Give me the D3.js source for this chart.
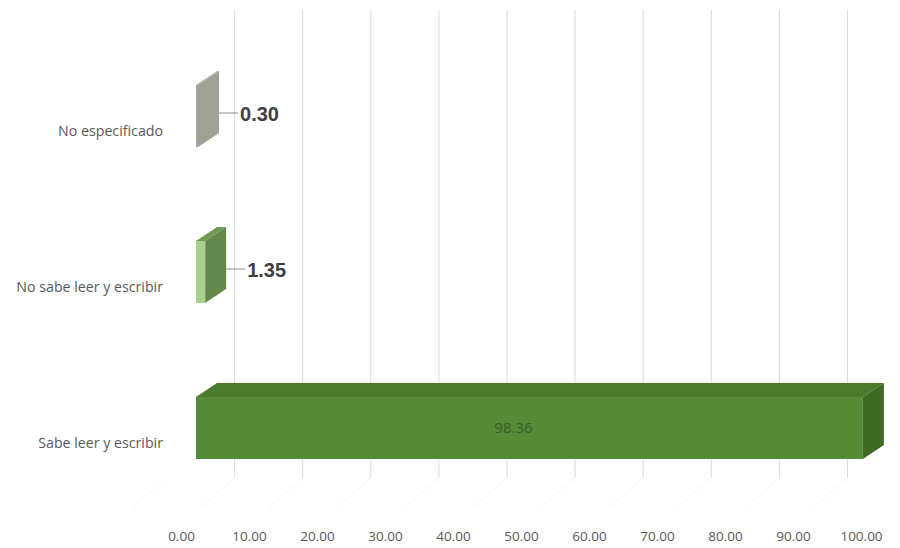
<!DOCTYPE html>
<html>
<head>
<meta charset="utf-8">
<script src="https://cdn.jsdelivr.net/npm/d3@7"></script>
<style>
  html, body { margin: 0; padding: 0; background: #ffffff; }
  svg { display: block; }
</style>
</head>
<body>
<div id="chart"></div>
<script>
// ---- data ----
const categories = ["No especificado", "No sabe leer y escribir", "Sabe leer y escribir"];
const values = [0.30, 1.35, 98.36];
const valueLabels = ["0.30", "1.35", "98.36"];
const tickValues = [0, 10, 20, 30, 40, 50, 60, 70, 80, 90, 100];
const tickLabels = ["0.00", "10.00", "20.00", "30.00", "40.00", "50.00", "60.00", "70.00", "80.00", "90.00", "100.00"];
const frontColors = ["#a6a79e", "#a9d18e", "#558a36"];
const topColors = ["#b0b3a5", "#6f9a52", "#4a7a2c"];
const sideColors = ["#9ea292", "#65884c", "#3f6a25"];

const W = 900, H = 548;
const svg = d3.select("#chart").append("svg").attr("width", W).attr("height", H);

// scales
const xBar = d3.scaleLinear().domain([0, 100]).range([196, 874]);      // front face of bars
const xGrid = d3.scaleLinear().domain([0, 100]).range([166, 847]);     // back wall gridlines
const xTick = d3.scaleLinear().domain([0, 100]).range([181, 861]);     // axis labels
const y = d3.scalePoint().domain(categories).range([116, 428]);
const barH = 62;
const dx = 21, dy = -14;

// floor faint diagonal lines
svg.append("g").selectAll("line").data(tickValues).join("line")
  .attr("x1", d => xGrid(d)).attr("y1", 478)
  .attr("x2", d => xGrid(d) - 34).attr("y2", 508)
  .attr("stroke", "#f5f5f5").attr("stroke-width", 1);

// back wall gridlines
svg.append("g").selectAll("line").data(tickValues.filter(d => d > 0)).join("line")
  .attr("x1", d => xGrid(d) + 0.5).attr("x2", d => xGrid(d) + 0.5)
  .attr("y1", 10).attr("y2", 478)
  .attr("stroke", "#dadada").attr("stroke-width", 1);

// bars
const bars = svg.append("g").selectAll("g").data(categories).join("g");
bars.each(function(c, i) {
  const g = d3.select(this);
  const x0 = xBar(0), x1 = xBar(values[i]);
  const yt = y(c) - barH / 2, yb = y(c) + barH / 2;
  g.append("path")
    .attr("d", `M${x0},${yt} L${x0 + dx},${yt + dy} L${x1 + dx},${yt + dy} L${x1},${yt} Z`)
    .attr("fill", topColors[i]);
  g.append("path")
    .attr("d", `M${x1},${yt} L${x1 + dx},${yt + dy} L${x1 + dx},${yb + dy} L${x1},${yb} Z`)
    .attr("fill", sideColors[i]);
  g.append("rect")
    .attr("x", x0).attr("y", yt)
    .attr("width", Math.max(1, x1 - x0)).attr("height", barH)
    .attr("fill", frontColors[i]);
});

// value labels
bars.each(function(c, i) {
  const g = d3.select(this);
  const cy = y(c);
  if (values[i] < 50) {
    const xs = xBar(values[i]) + dx;
    g.append("line")
      .attr("x1", xs).attr("x2", xs + 19)
      .attr("y1", cy - 3).attr("y2", cy - 3)
      .attr("stroke", "#8c8c8c").attr("stroke-width", 1);
    g.append("text")
      .attr("x", xs + 21).attr("y", cy - 2)
      .attr("dy", "0.35em")
      .attr("font-family", "Liberation Sans, Arial, sans-serif")
      .attr("font-size", 20).attr("font-weight", "bold")
      .attr("fill", "#404040")
      .text(valueLabels[i]);
  } else {
    g.append("text")
      .attr("x", (xBar(0) + xBar(values[i])) / 2 - 16).attr("y", cy)
      .attr("dy", "0.35em")
      .attr("text-anchor", "middle")
      .attr("font-family", "Open Sans, sans-serif")
      .attr("font-size", 15)
      .attr("fill", "#2e4a1e")
      .attr("fill-opacity", 0.75)
      .text(valueLabels[i]);
  }
});

// category labels
svg.append("g").selectAll("text").data(categories).join("text")
  .attr("x", 163).attr("y", d => y(d) + 15)
  .attr("dy", "0.35em")
  .attr("text-anchor", "end")
  .attr("font-family", "Open Sans, sans-serif")
  .attr("font-size", 14.2)
  .attr("fill", "#595959")
  .text(d => d);

// axis tick labels
const axis = d3.axisBottom(xTick).tickValues(tickValues)
  .tickFormat((d, i) => tickLabels[i]).tickSize(0).tickPadding(0);
const ax = svg.append("g").attr("transform", "translate(0,531)").call(axis);
ax.select(".domain").remove();
ax.selectAll("text")
  .attr("font-family", "Open Sans, sans-serif")
  .attr("font-size", 13.5)
  .attr("fill", "#595959");
</script>
</body>
</html>
